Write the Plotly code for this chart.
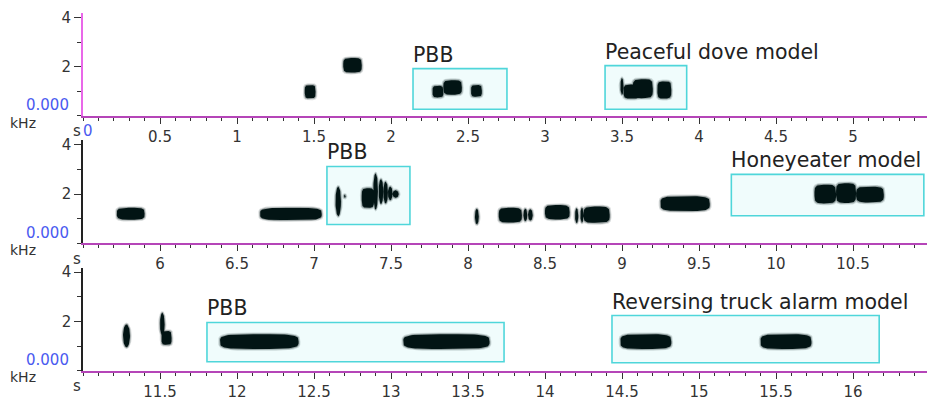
import numpy as np
import plotly.graph_objects as go

# ---- spectrogram syllables: (start s, end s, low kHz, high kHz) ----
syllables_1 = [
    (1.44, 1.51, 0.71, 1.25),
    (1.69, 1.81, 1.76, 2.35),
    (2.27, 2.34, 0.75, 1.22),
    (2.34, 2.46, 0.86, 1.45),
    (2.52, 2.59, 0.78, 1.25),
    (3.49, 3.51, 0.86, 1.53),
    (3.51, 3.62, 0.70, 1.27),
    (3.57, 3.70, 0.72, 1.49),
    (3.73, 3.82, 0.70, 1.40),
]
syllables_2 = [
    (5.72, 5.90, 0.96, 1.44),
    (6.65, 7.05, 0.94, 1.44),
    (7.14, 7.175, 1.10, 2.30),
    (7.195, 7.205, 1.85, 1.97),
    (7.31, 7.39, 1.44, 2.24),
    (7.385, 7.415, 1.37, 2.84),
    (7.42, 7.45, 1.60, 2.60),
    (7.45, 7.48, 1.62, 2.50),
    (7.48, 7.51, 1.75, 2.30),
    (7.51, 7.55, 1.85, 2.15),
    (8.045, 8.07, 0.77, 1.40),
    (8.20, 8.35, 0.84, 1.44),
    (8.36, 8.385, 0.90, 1.40),
    (8.39, 8.42, 0.92, 1.38),
    (8.50, 8.66, 0.97, 1.55),
    (8.695, 8.716, 0.82, 1.42),
    (8.73, 8.75, 0.84, 1.44),
    (8.75, 8.92, 0.83, 1.49),
    (9.25, 9.57, 1.31, 1.91),
    (10.25, 10.39, 1.62, 2.38),
    (10.39, 10.52, 1.64, 2.44),
    (10.52, 10.70, 1.66, 2.30),
]
syllables_3 = [
    (11.26, 11.305, 0.95, 1.88),
    (11.50, 11.53, 1.41, 2.35),
    (11.51, 11.575, 1.05, 1.61),
    (11.89, 12.40, 0.88, 1.48),
    (13.08, 13.64, 0.88, 1.48),
    (14.49, 14.82, 0.88, 1.48),
    (15.40, 15.73, 0.88, 1.48),
]

# ---- highlighted regions: (start s, end s, low kHz, high kHz) and labels ----
boxes_1 = [(2.143, 2.753, 0.27, 1.92), (3.39, 3.92, 0.27, 2.04)]
labels_1 = ["PBB", "Peaceful dove model"]
boxes_2 = [(7.084, 7.623, 0.76, 3.12), (9.71, 10.96, 1.12, 2.80)]
labels_2 = ["PBB", "Honeyeater model"]
boxes_3 = [(11.805, 13.734, 0.36, 1.96), (14.435, 16.17, 0.32, 2.24)]
labels_3 = ["PBB", "Reversing truck alarm model"]

# ---- time axis of each row ----
row_start = [0.0, 5.5, 11.0]
row_ticks = [
    [0.5, 1, 1.5, 2, 2.5, 3, 3.5, 4, 4.5, 5],
    [6, 6.5, 7, 7.5, 8, 8.5, 9, 9.5, 10, 10.5],
    [11.5, 12, 12.5, 13, 13.5, 14, 14.5, 15, 15.5, 16],
]
freq_ticks = [2, 4]
freq_tick_text = ["2", "4"]

W, H = 927, 401
LEFT = 83
PX_PER_S = 154.0
SPAN = (W - LEFT) / PX_PER_S
FMAX = 4.19
ROW_BOTTOM = [115, 246, 377]
ROW_HEIGHT = 106

INK = "#021414"
TEXT = "#333333"
BLUE = "#4a5af0"
FONT = "DejaVu Sans"


def outline(t0, t1, f0, f1, pad_t=0.0, pad_f=0.0):
    """Rounded (superellipse) outline of a syllable."""
    n = 2.0 if (t1 - t0) < 0.045 else 4.0
    th = np.linspace(0, 2 * np.pi, 72)
    cx, cy = (t0 + t1) / 2, (f0 + f1) / 2
    a, b = (t1 - t0) / 2 + pad_t, (f1 - f0) / 2 + pad_f
    c, s = np.cos(th), np.sin(th)
    xs = cx + a * np.sign(c) * np.abs(c) ** (2 / n)
    ys = cy + b * np.sign(s) * np.abs(s) ** (2 / n)
    return list(xs) + [None], list(ys) + [None]


fig = go.Figure()
layout = dict(
    width=W, height=H,
    margin=dict(l=0, r=0, t=0, b=0),
    paper_bgcolor="white", plot_bgcolor="white",
    showlegend=False,
    font=dict(family=FONT, size=15, color=TEXT),
)
shapes, annotations = [], []

rows = [
    (syllables_1, boxes_1, labels_1),
    (syllables_2, boxes_2, labels_2),
    (syllables_3, boxes_3, labels_3),
]

# soft edge layers: (time pad, freq pad, colour)
edge_layers = [
    (0.012, 0.075, "rgba(10,25,25,0.14)"),
    (0.006, 0.038, "rgba(10,25,25,0.30)"),
]

for i, (sylls, boxes, labels) in enumerate(rows):
    k = "" if i == 0 else str(i + 1)
    xa, ya = "x" + k, "y" + k
    bottom = ROW_BOTTOM[i]
    y0 = (H - bottom) / H
    y1 = (H - bottom + ROW_HEIGHT) / H
    t_start = row_start[i]

    # highlighted regions
    for (b0, b1, g0, g1), lab in zip(boxes, labels):
        shapes.append(dict(type="rect", xref=xa, yref=ya, x0=b0, x1=b1, y0=g0, y1=g1,
                           fillcolor="#f0fcfc", line=dict(color="#4fd6da", width=1.6),
                           layer="below"))
        annotations.append(dict(xref=xa, yref=ya, x=b0, y=g1, text=lab, showarrow=False,
                                xanchor="left", yanchor="bottom", xshift=-2, yshift=0,
                                font=dict(family=FONT, size=20.5, color="#222222")))

    # soft edges + solid core of each syllable
    for pt, pf, col in edge_layers:
        hx, hy = [], []
        for (t0, t1, f0, f1) in sylls:
            x, y = outline(t0, t1, f0, f1, pt, pf)
            hx += x; hy += y
        fig.add_trace(go.Scatter(x=hx, y=hy, xaxis=xa, yaxis=ya, mode="lines", fill="toself",
                                 fillcolor=col, line=dict(width=0), hoverinfo="skip"))
    cx_, cy_ = [], []
    for (t0, t1, f0, f1) in sylls:
        x, y = outline(t0, t1, f0, f1)
        cx_ += x; cy_ += y
    fig.add_trace(go.Scatter(x=cx_, y=cy_, xaxis=xa, yaxis=ya, mode="lines", fill="toself",
                             fillcolor=INK, line=dict(width=0), hoverinfo="skip"))

    layout["xaxis" + k] = dict(
        domain=[LEFT / W, 1], anchor=ya, range=[t_start, t_start + SPAN],
        tickmode="array", tickvals=row_ticks[i],
        ticktext=[f"{v:g}" for v in row_ticks[i]],
        ticks="outside", ticklen=6, tickwidth=1, tickcolor="#333",
        minor=dict(ticks="outside", tickmode="linear", tick0=0, dtick=0.1,
                   ticklen=3, tickcolor="#333", tickwidth=1),
        showline=True, linecolor="#b545b8", linewidth=2,
        showgrid=False, zeroline=False, fixedrange=True,
        tickfont=dict(family=FONT, size=15, color=TEXT),
    )
    layout["yaxis" + k] = dict(
        domain=[y0, y1], anchor=xa, range=[0, FMAX],
        tickmode="array", tickvals=freq_ticks, ticktext=freq_tick_text,
        ticks="outside", ticklen=7, tickwidth=1, tickcolor="#333",
        minor=dict(ticks="outside", tickmode="linear", tick0=0, dtick=1,
                   ticklen=4, tickcolor="#333", tickwidth=1),
        showline=True, linecolor="#e968e9" if i == 0 else "#222", linewidth=2 if i == 0 else 1.5,
        showgrid=False, zeroline=False, fixedrange=True,
        tickfont=dict(family=FONT, size=15, color=TEXT),
    )

    # axis unit labels and the zero-frequency readout
    annotations.append(dict(xref="paper", yref="paper", x=71 / W, y=(H - bottom + 11) / H,
                            text="0.000", showarrow=False, xanchor="right", yanchor="middle",
                            font=dict(family=FONT, size=15, color=BLUE)))
    annotations.append(dict(xref="paper", yref="paper", x=8 / W, y=(H - bottom - 7) / H,
                            text="kHz", showarrow=False, xanchor="left", yanchor="middle",
                            font=dict(family=FONT, size=14, color=TEXT)))
    annotations.append(dict(xref="paper", yref="paper", x=77 / W, y=(H - bottom - 16) / H,
                            text="s", showarrow=False, xanchor="center", yanchor="middle",
                            font=dict(family=FONT, size=15, color=TEXT)))
    if i == 0:
        annotations.append(dict(xref="paper", yref="paper", x=88 / W, y=(H - bottom - 16) / H,
                                text="0", showarrow=False, xanchor="center", yanchor="middle",
                                font=dict(family=FONT, size=15, color=BLUE)))

layout["shapes"] = shapes
layout["annotations"] = annotations
fig.update_layout(**layout)
fig.write_html("out.html")
